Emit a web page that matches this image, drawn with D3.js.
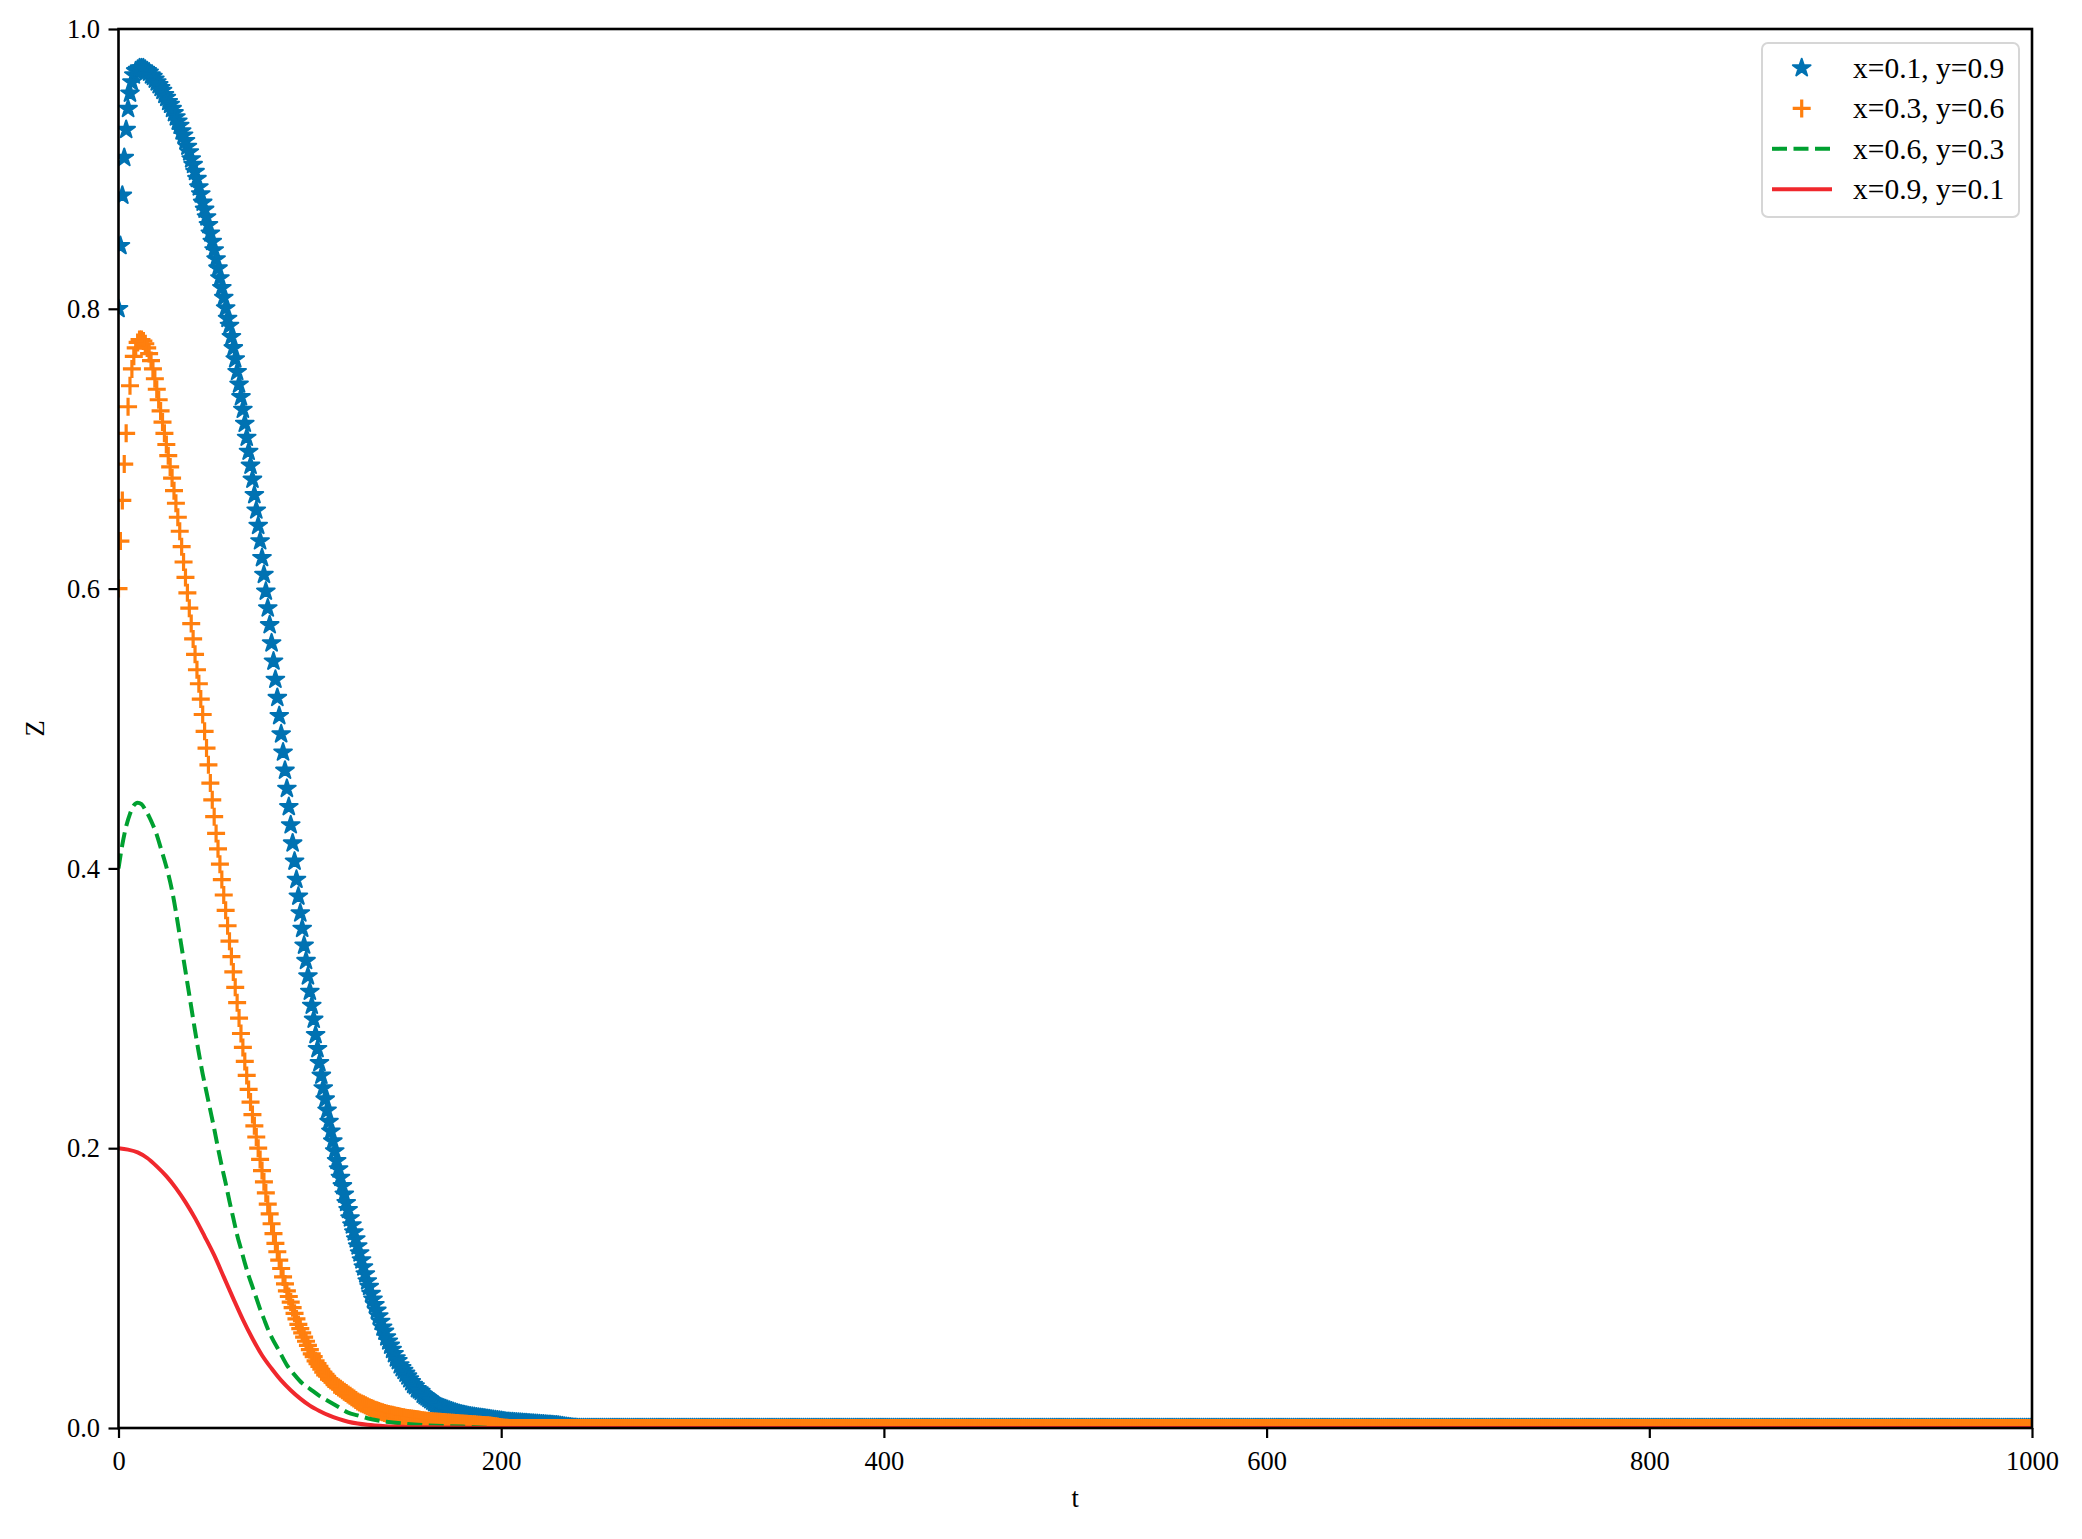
<!DOCTYPE html>
<html><head><meta charset="utf-8">
<script src="https://cdn.jsdelivr.net/npm/d3@7"></script>
<style>
body{margin:0;background:#fff}
svg{display:block}
text{font-family:"Liberation Serif","Times New Roman",serif;fill:#000}
</style>
</head><body>
<svg id="c" width="2082" height="1539"></svg>
<script>
// ---------- data ----------
const xTicks = [0, 200, 400, 600, 800, 1000];
const yTicks = [0, 0.2, 0.4, 0.6, 0.8, 1.0];
const seriesNames = ["x=0.1, y=0.9", "x=0.3, y=0.6", "x=0.6, y=0.3", "x=0.9, y=0.1"];
const seriesColors = ["#0072b2", "#ff7f0e", "#00a030", "#f0282d"];

// Z at t = 0,1,2,... (markers every integer t)
const blueZ = [
.800,.845,.881,.908,.928,.943,.954,.962,.967,.970,
.971,.972,.972,.972,.971,.970,.969,.967,.966,.964,
.962,.960,.958,.956,.953,.951,.948,.946,.943,.940,
.937,.934,.931,.927,.924,.920,.916,.912,.907,.903,
.898,.893,.887,.882,.876,.871,.8655,.860,.854,.848,
.842,.8355,.829,.822,.815,.808,.8005,.793,.788,.780,
.772,.764,.755,.746,.737,.728,.718,.708,.698,.688,
.678,.667,.656,.645,.634,.622,.610,.598,.586,.574,
.561,.548,.535,.522,.509,.496,.483,.470,.457,.444,
.431,.418,.405,.392,.380,.368,.357,.345,.334,.323,
.312,.302,.292,.281,.271,.261,.252,.243,.235,.227,
.219,.212,.205,.198,.191,.185,.179,.173,.167,.161,
.156,.150,.145,.140,.135,.130,.125,.120,.115,.110,
.105,.101,.096,.092,.088,.084,.080,.076,.072,.069,
.065,.062,.059,.056,.053,.050,.048,.045,.043,.041,
.039,.037,.035,.033,.031,.030,.028,.027,.026,.024,
.023,.022,.021,.020,.019,.018,.017,.016,.015,.0145,
.014,.0135,.013,.0125,.012,.0115,.011,.0106,.0102,.0098,
.0095,.0092,.0089,.0086,.0083,.0081,.0079,.0077,.0075,.0073,
.0071,.0069,.0067,.0065,.0063,.0061,.0059,.0057,.0055,.0053,
.0051,.0049,.0047,.0045,.0044,.0043,.0042,.0041,.0040,.0039,
.0038,.0037,.0036,.0035,.0034,.0033,.0032,.0031,.0030,.0029,
.0028,.0027,.0026,.0025,.0024,.0023,.0022,.0021,.0020,.0019,
.0017,.0015,.0013,.0011,.0009,.0007,.0005,.0003,.0002,.0001
];
const orangeZ = [
.600,.634,.663,.689,.711,.730,.745,.757,.766,.772,
.776,.778,.778,.777,.775,.772,.768,.763,.757,.750,
.7425,.735,.727,.719,.711,.703,.695,.687,.679,.670,
.661,.651,.641,.630,.619,.608,.597,.586,.575,.564,
.553,.542,.532,.521,.510,.498,.486,.474,.461,.449,
.437,.425,.414,.403,.392,.381,.370,.359,.348,.337,
.326,.315,.304,.293,.282,.272,.262,.252,.242,.233,
.224,.216,.208,.200,.192,.184,.176,.168,.160,.153,
.146,.139,.132,.126,.120,.114,.108,.103,.098,.094,
.090,.086,.082,.078,.074,.071,.068,.065,.062,.059,
.056,.053,.051,.048,.046,.044,.042,.040,.038,.037,
.035,.034,.033,.031,.030,.029,.028,.027,.026,.025,
.024,.023,.022,.021,.020,.0190,.0183,.0176,.0169,.0162,
.0155,.0149,.0143,.0137,.0131,.0126,.0121,.0116,.0112,.0108,
.0104,.0100,.0097,.0094,.0091,.0088,.0085,.0082,.0079,.0076,
.0074,.0072,.0070,.0068,.0066,.0064,.0062,.0060,.0058,.0056,
.0054,.0052,.0050,.0049,.0048,.0047,.0046,.0045,.0044,.0043,
.0042,.0041,.0040,.0039,.0038,.0037,.0036,.0035,.0034,.0033,
.0032,.0031,.0030,.0029,.0028,.0027,.0026,.0025,.0024,.0023,
.0022,.0021,.0020,.0019,.0018,.0016,.0014,.0012,.0010,.0008,
.0006,.0004,.0002,.0001
];
// level both marker series sit on after their transients, up to t = 1000
const tailZ = 0;
const tEnd = 1000;

const greenT = [0,2,4,6,8,10,12,14,16,18,20,22,24,26,28,30,32,34,36,38,40,42,44,46,48,50,52,54,56,58,60,62,64,66,68,70,72,74,76,78,80,84,88,92,96,100,105,110,115,120,125,130,140,150,160,180,200,1000];
const greenZ = [.400,.417,.430,.439,.445,.447,.446,.442,.437,.431,.424,.415,.406,.396,.384,.369,.352,.335,.318,.301,.284,.268,.253,.240,.227,.214,.200,.187,.175,.162,.150,.138,.128,.118,.109,.101,.093,.085,.078,.071,.065,.055,.045,.038,.032,.028,.023,.019,.015,.011,.009,.007,.0045,.003,.002,.001,0,0];

const redT = [0,5,10,15,20,25,30,35,40,45,50,55,60,65,70,75,80,85,90,95,100,105,110,115,120,125,130,140,150,170,200,1000];
const redZ = [.2000,.1990,.1970,.1930,.1870,.1800,.1715,.1615,.1500,.1370,.1235,.1080,.0925,.0775,.0640,.0520,.0425,.0340,.0270,.0210,.0160,.0122,.0090,.0065,.0045,.0032,.0023,.0013,.0008,.0004,0,0];

// ---------- layout ----------
const L = 118.5, R = 2032, T = 29, B = 1428;
const svg = d3.select("#c");
const x = d3.scaleLinear().domain([0, 1000]).range([L, R]);
const y = d3.scaleLinear().domain([0, 1]).range([B, T]);

function withTail(arr) {
  const pts = arr.map((v, i) => [i, v]);
  for (let t = arr.length; t <= tEnd; t++) pts.push([t, tailZ]);
  return pts;
}
const bluePts = withTail(blueZ);
const orangePts = withTail(orangeZ);
const greenPts = greenT.map((t, i) => [t, greenZ[i]]);
const redPts = redT.map((t, i) => [t, redZ[i]]);

function starPath(Ro) {
  const Ri = Ro * 0.381966;
  const p = [];
  for (let k = 0; k < 10; k++) {
    const a = -Math.PI / 2 + k * Math.PI / 5;
    const r = k % 2 === 0 ? Ro : Ri;
    p.push([r * Math.cos(a), r * Math.sin(a)]);
  }
  return "M" + p.map(d => d[0].toFixed(2) + "," + d[1].toFixed(2)).join("L") + "Z";
}
const STAR = starPath(9.3);
const PH = 9; // plus half length
const PLUS = `M${-PH},0H${PH}M0,${-PH}V${PH}`;

svg.append("defs").append("clipPath").attr("id", "clip")
  .append("rect").attr("x", L).attr("y", T).attr("width", R - L).attr("height", B - T);

const plot = svg.append("g").attr("clip-path", "url(#clip)");

// blue stars
plot.append("g").selectAll("path").data(bluePts).join("path")
  .attr("d", STAR)
  .attr("transform", d => `translate(${x(d[0])},${y(d[1])})`)
  .attr("fill", seriesColors[0]).attr("stroke", seriesColors[0]).attr("stroke-width", 2)
  .attr("stroke-linejoin", "round");

// orange plus
plot.append("g").selectAll("path").data(orangePts).join("path")
  .attr("d", PLUS)
  .attr("transform", d => `translate(${x(d[0])},${y(d[1])})`)
  .attr("fill", "none").attr("stroke", seriesColors[1]).attr("stroke-width", 3.2);

const line = d3.line().x(d => x(d[0])).y(d => y(d[1])).curve(d3.curveMonotoneX);
plot.append("path").datum(greenPts).attr("d", line)
  .attr("fill", "none").attr("stroke", seriesColors[2]).attr("stroke-width", 4)
  .attr("stroke-dasharray", "15,6.5");
plot.append("path").datum(redPts).attr("d", line)
  .attr("fill", "none").attr("stroke", seriesColors[3]).attr("stroke-width", 4);

// ---------- axes ----------
const fs = 26.5;
const xAxis = svg.append("g").attr("transform", `translate(0,${B})`)
  .call(d3.axisBottom(x).tickValues(xTicks).tickFormat(d3.format("d")).tickSize(10).tickSizeOuter(0));
xAxis.select(".domain").remove();
xAxis.selectAll(".tick line").attr("stroke", "#000").attr("stroke-width", 2.2);
xAxis.selectAll(".tick text").attr("y", 42).attr("dy", 0)
  .style("font-size", fs + "px").style("font-family", "'Liberation Serif',serif").attr("fill", "#000");

const yAxis = svg.append("g").attr("transform", `translate(${L},0)`)
  .call(d3.axisLeft(y).tickValues(yTicks).tickFormat(d3.format(".1f")).tickSize(10).tickSizeOuter(0));
yAxis.select(".domain").remove();
yAxis.selectAll(".tick line").attr("stroke", "#000").attr("stroke-width", 2.2);
yAxis.selectAll(".tick text").attr("x", -18.5).attr("dy", "0.33em")
  .style("font-size", fs + "px").style("font-family", "'Liberation Serif',serif").attr("fill", "#000");

// spines
svg.append("rect").attr("x", L).attr("y", T).attr("width", R - L).attr("height", B - T)
  .attr("fill", "none").attr("stroke", "#000").attr("stroke-width", 2.6);

// axis labels
svg.append("text").attr("x", (L + R) / 2).attr("y", 1507).attr("text-anchor", "middle")
  .style("font-size", fs + "px").text("t");
svg.append("text").attr("transform", `translate(44,${(T + B) / 2}) rotate(-90)`).attr("text-anchor", "middle")
  .style("font-size", fs + "px").text("Z");

// ---------- legend ----------
const lg = svg.append("g");
lg.append("rect").attr("x", 1762).attr("y", 43).attr("width", 257).attr("height", 174).attr("rx", 6)
  .attr("fill", "#fff").attr("fill-opacity", 0.8).attr("stroke", "#d6d6d6").attr("stroke-width", 2);
const rowY = i => 68 + i * 40.4;
seriesNames.forEach((name, i) => {
  const cy = rowY(i);
  if (i === 0) {
    lg.append("path").attr("d", STAR).attr("transform", `translate(1801.7,${cy})`)
      .attr("fill", seriesColors[0]).attr("stroke", seriesColors[0]).attr("stroke-width", 2).attr("stroke-linejoin", "round");
  } else if (i === 1) {
    lg.append("path").attr("d", PLUS).attr("transform", `translate(1801.7,${cy})`)
      .attr("fill", "none").attr("stroke", seriesColors[1]).attr("stroke-width", 3.2);
  } else {
    lg.append("line").attr("x1", 1772).attr("x2", 1832).attr("y1", cy).attr("y2", cy)
      .attr("stroke", seriesColors[i]).attr("stroke-width", 4)
      .attr("stroke-dasharray", i === 2 ? "15,6.5" : null);
  }
  lg.append("text").attr("x", 1853).attr("y", cy + 9.7).style("font-size", "29.5px").text(name);
});
</script>
</body></html>
